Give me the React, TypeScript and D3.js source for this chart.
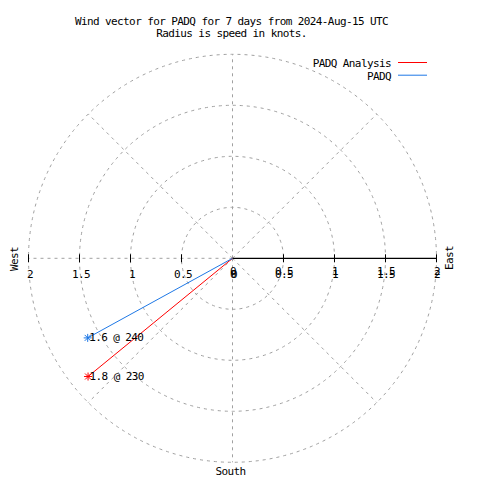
import React from "react";
import * as d3 from "d3";

const titleLines = ["Wind vector for PADQ for 7 days from 2024-Aug-15 UTC", "Radius is speed in knots."];
const seriesNames = ["PADQ Analysis", "PADQ"];
const seriesColors = ["#ff0000", "#1e78e6"];
const speeds = [1.83, 1.62];
const directions = [230.7, 241.2];
const pointLabels = ["1.8 @ 230", "1.6 @ 240"];
const ringValues = [0.5, 1, 1.5, 2];
const tickValues = [0, 0.5, 1, 1.5, 2];
const spokeAngles = [0, 45, 135, 180, 225, 270, 315];

const W = 480, H = 480;
const cx = 232.5, cy = 258.3;
const font = "'DejaVu Sans Mono', 'Liberation Mono', monospace";
const grid = "#a0a0a0";

export default function App() {
  const r = d3.scaleLinear().domain([0, 2]).range([0, 204]);
  const pt = (speed: number, deg: number) => {
    const a = (deg * Math.PI) / 180;
    return [cx + r(speed) * Math.sin(a), cy - r(speed) * Math.cos(a)];
  };
  const line = d3.line();
  const textStyle: React.CSSProperties = { fontFamily: font, fontSize: 11, letterSpacing: "-0.6px" };

  return (
    <svg width={W} height={H} style={{ position: "absolute", left: 0, top: 0, background: "#fff" }}>
      <g style={textStyle} fill="#000">
        <text x={231.5} y={25} textAnchor="middle">{titleLines[0]}</text>
        <text x={231.5} y={37} textAnchor="middle">{titleLines[1]}</text>
      </g>
      {/* grid rings */}
      {ringValues.map((v) => (
        <circle key={v} cx={cx} cy={cy} r={r(v)} fill="none" stroke={grid} strokeWidth={1} strokeDasharray="3,4" />
      ))}
      {spokeAngles.map((a) => {
        const [x, y] = pt(2, a);
        return <path key={a} d={line([[cx, cy], [x, y]]) || ""} stroke={grid} strokeWidth={1} strokeDasharray="3,4" fill="none" />;
      })}
      {/* east axis solid */}
      <path d={line([[cx, cy], [cx + r(2), cy]]) || ""} stroke="#000" strokeWidth={1.2} fill="none" />
      {tickValues.filter((v) => v > 0).map((v) => (
        <g key={v}>
          <line x1={cx + r(v)} x2={cx + r(v)} y1={cy - 4} y2={cy + 4} stroke="#000" />
          <line x1={cx - r(v)} x2={cx - r(v)} y1={cy - 4} y2={cy + 4} stroke="#000" />
        </g>
      ))}
      <g style={textStyle} fill="#000" textAnchor="middle">
        {tickValues.map((v) => (
          <text key={"l" + v} x={cx - r(v) + 1.5} y={278}>{String(v)}</text>
        ))}
        {tickValues.map((v) => (
          <text key={"r1" + v} x={cx + r(v) + 0.5} y={274.5}>{String(v)}</text>
        ))}
        {tickValues.map((v) => (
          <text key={"r2" + v} x={cx + r(v) + 0.5} y={278}>{String(v)}</text>
        ))}
        <text x={230.5} y={475}>South</text>
        <text transform={`translate(18,259) rotate(-90)`}>West</text>
        <text transform={`translate(453,258) rotate(-90)`}>East</text>
      </g>
      {/* vectors */}
      {speeds.map((s, i) => {
        const [x, y] = pt(s, directions[i]);
        const c = seriesColors[i];
        return (
          <g key={i}>
            <path d={line([[cx, cy], [x, y]]) || ""} stroke={c} strokeWidth={1} fill="none" />
            <g stroke={c} strokeWidth={1}>
              <line x1={x - 4} x2={x + 4} y1={y} y2={y} />
              <line x1={x} x2={x} y1={y - 4} y2={y + 4} />
              <line x1={x - 3} x2={x + 3} y1={y - 3} y2={y + 3} />
              <line x1={x - 3} x2={x + 3} y1={y + 3} y2={y - 3} />
            </g>
            <text x={x + 1.5} y={y + 3.5} style={textStyle} fill="#000">{pointLabels[i]}</text>
          </g>
        );
      })}
      {/* legend */}
      {seriesNames.map((n, i) => (
        <g key={n}>
          <text x={391} y={67 + i * 12.7} textAnchor="end" style={textStyle} fill="#000">{n}</text>
          <line x1={398} x2={427} y1={62.5 + i * 12.7} y2={62.5 + i * 12.7} stroke={seriesColors[i]} strokeWidth={1} />
        </g>
      ))}
    </svg>
  );
}
